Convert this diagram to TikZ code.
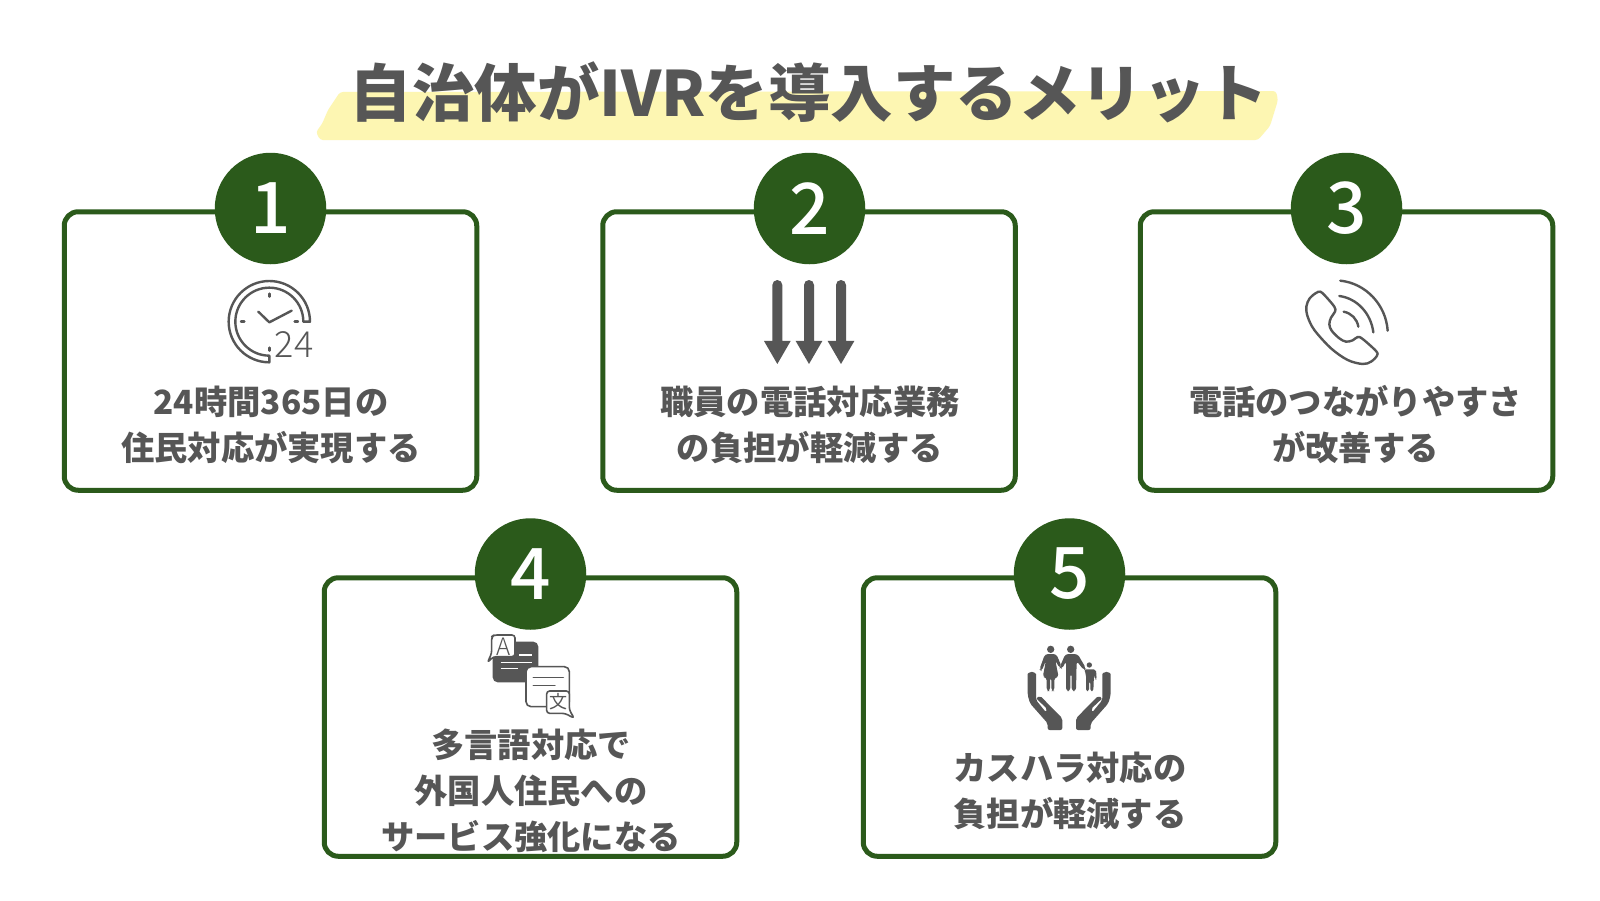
\documentclass[tikz,border=0pt]{standalone}
\usepackage{fontspec}
\setmainfont{Noto Sans CJK JP}
\newfontfamily\thinfont{Noto Sans CJK JP Light}
\newfontfamily\midfont{Noto Sans CJK JP Medium}
\definecolor{leaf}{HTML}{2B5A1B}
\definecolor{ink}{HTML}{565656}
\definecolor{marker}{HTML}{FDF6B2}
\tikzset{
  card/.style={draw=leaf,line width=5pt,rounded corners=14pt,fill=white,minimum width=412.5pt,minimum height=278.5pt,inner sep=0pt},
  badge/.style={circle,fill=leaf,minimum size=111.5pt,inner sep=0pt,text=white,font=\midfont\fontsize{71}{71}\selectfont},
  label/.style={text=ink,inner sep=0pt,align=center,font=\fontsize{33.3}{46}\selectfont\bfseries},
  heading/.style={text=ink,inner sep=0pt,font=\fontsize{62.5}{70}\selectfont\bfseries},
  iconline/.style={draw=ink,line width=2.4pt,line cap=round,line join=round},
  zoomgrid/.style={x=0.3333pt,y=-0.3333pt},
}
\begin{document}
\begin{tikzpicture}[x=1pt,y=-1pt]
\useasboundingbox (0,0) rectangle (1600,900);
\fill[white] (0,0) rectangle (1600,900);
% marker stroke
\fill[marker,rounded corners=3pt] (340,92) -- (1276,91) -- (1278,100) -- (1270,126) -- (1258,140) -- (320,140) -- (316,132) -- (322,124) -- (328,110) -- cycle;
\node[heading] (title) at (809,92) {自治体がIVRを導入するメリット};
% cards
\node[card] (c1) at (270.5,351) {};
\node[card] (c2) at (809,351) {};
\node[card] (c3) at (1346.5,351) {};
\node[card] (c4) at (530.5,717) {};
\node[card] (c5) at (1069.5,717) {};
% badges
\node[badge] (b1) at (270.5,208.5) {\raisebox{-9pt}{1}};
\node[badge] (b2) at (809.5,208.5) {\raisebox{-9pt}{2}};
\node[badge] (b3) at (1346.5,208.5) {\raisebox{-9pt}{3}};
\node[badge] (b4) at (530.5,574) {\raisebox{-9pt}{4}};
\node[badge] (b5) at (1069.5,574) {\raisebox{-9pt}{5}};
% labels
\node[label] (t1) at (271,425) {24時間365日の\\住民対応が実現する};
\node[label] (t2) at (810,425) {職員の電話対応業務\\の負担が軽減する};
\node[label] (t3) at (1355.5,425) {電話のつながりやすさ\\が改善する};
\node[label] (t4) at (531,791) {多言語対応で\\外国人住民への\\サービス強化になる};
\node[label] (t5) at (1070,790.5) {カスハラ対応の\\負担が軽減する};
% clock icon
\begin{scope}[shift={(200,260)},zoomgrid]
\draw[iconline] (330,185) arc[start angle=0,end angle=-270,radius=122] -- (208,287) arc[start angle=-270,end angle=0,radius=102] -- cycle;
\draw[iconline] (175,155) -- (208,187) -- (275,152);
\draw[iconline] (208,101) -- (208,110) (123,185) -- (133,185) (284,185) -- (294,185) (208,263) -- (208,272);
\end{scope}
\node[text=ink,inner sep=0pt,font=\thinfont\fontsize{36}{36}\selectfont] (n24) at (294,344.5) {24};
% arrows icon
\begin{scope}[shift={(740,265)},zoomgrid]
\foreach \cx in {112,207,303}{
  \fill[ink] (\cx-15,60) arc[start angle=180,end angle=360,radius=15] -- (\cx+15,228) -- (\cx+40,228) -- (\cx,297) -- (\cx-40,228) -- (\cx-15,228) -- cycle;
}
\end{scope}
% phone icon
\begin{scope}[shift={(1281,265)},zoomgrid]
\draw[iconline] plot[smooth cycle,tension=0.55] coordinates {(76,125) (86,100) (105,84) (118,80) (132,92) (160,125) (162,140) (150,158) (145,178) (152,197) (175,220) (195,230) (215,226) (230,216) (245,222) (285,258) (288,272) (270,290) (245,297) (200,285) (150,250) (100,195) (80,155)};
\draw[iconline] (188,140) .. controls (212,145) and (228,162) .. (232,185);
\draw[iconline] (175,93) .. controls (228,100) and (270,145) .. (277,202);
\draw[iconline] (178,47) .. controls (255,55) and (315,120) .. (320,197);
\end{scope}
% translate icon
\begin{scope}[shift={(470,620)},zoomgrid]
\fill[ink,rounded corners=5pt] (68,65) rectangle (205,187);
\draw[iconline,line width=1.6pt,fill=white,rounded corners=3pt] (72,45) -- (135,45) -- (135,110) -- (70,110) -- (52,128) -- (65,100) -- (65,50) -- cycle;
\node[text=ink,inner sep=0pt,font=\thinfont\fontsize{24}{24}\selectfont] (ta) at (100,79) {A};
\draw[white,line width=1.6pt] (147,105) -- (187,105) (92,127) -- (187,127) (92,145) -- (143,145);
\draw[iconline,line width=1.6pt,fill=white,rounded corners=5pt] (168,140) rectangle (298,260);
\draw[iconline,line width=1.4pt] (190,172) -- (280,172) (190,197) -- (255,197);
\draw[iconline,line width=1.6pt,fill=white,rounded corners=3pt] (230,213) -- (298,213) -- (298,270) -- (313,295) -- (285,280) -- (230,280) -- cycle;
\node[text=ink,inner sep=0pt,font=\fontsize{18}{18}\selectfont] (tw) at (265,246) {文};
\end{scope}
% family and hands icon
\begin{scope}[shift={(1010,635)},zoomgrid]
\foreach \m/\o in {1/0,-1/355}{
  \begin{scope}[xscale=\m,xshift=\m*\o*0.3333pt]
  \fill[ink,rounded corners=2pt] (53,123) arc[start angle=180,end angle=360,radius=12.5] -- (78,195) -- (108,232) -- (112,222) -- (78,190) -- (90,182) -- (157,250) -- (157,285) -- (113,285) -- (113,265) -- (60,205) -- (53,180) -- cycle;
  \end{scope}
}
% woman
\fill[ink] (122,43) circle[radius=11];
\fill[ink,rounded corners=3pt] (105,57) -- (139,57) -- (155,95) -- (149,100) -- (136,76) -- (146,127) -- (133,127) -- (133,168) -- (124,168) -- (124,127) -- (120,127) -- (120,168) -- (110,168) -- (110,127) -- (98,127) -- (108,76) -- (95,108) -- (88,104) -- cycle;
% man
\fill[ink] (182,43) circle[radius=11];
\fill[ink,rounded corners=3pt] (166,57) -- (203,57) -- (228,100) -- (222,106) -- (200,78) -- (198,168) -- (185,168) -- (185,115) -- (181,115) -- (181,168) -- (168,168) -- (168,78) -- (156,102) -- (149,97) -- cycle;
% child
\fill[ink] (238,90) circle[radius=8];
\fill[ink,rounded corners=2pt] (222,103) -- (258,103) -- (260,133) -- (254,133) -- (252,118) -- (250,168) -- (241,168) -- (241,140) -- (237,140) -- (237,168) -- (228,168) -- (228,118) -- cycle;
\end{scope}
\end{tikzpicture}
\end{document}
